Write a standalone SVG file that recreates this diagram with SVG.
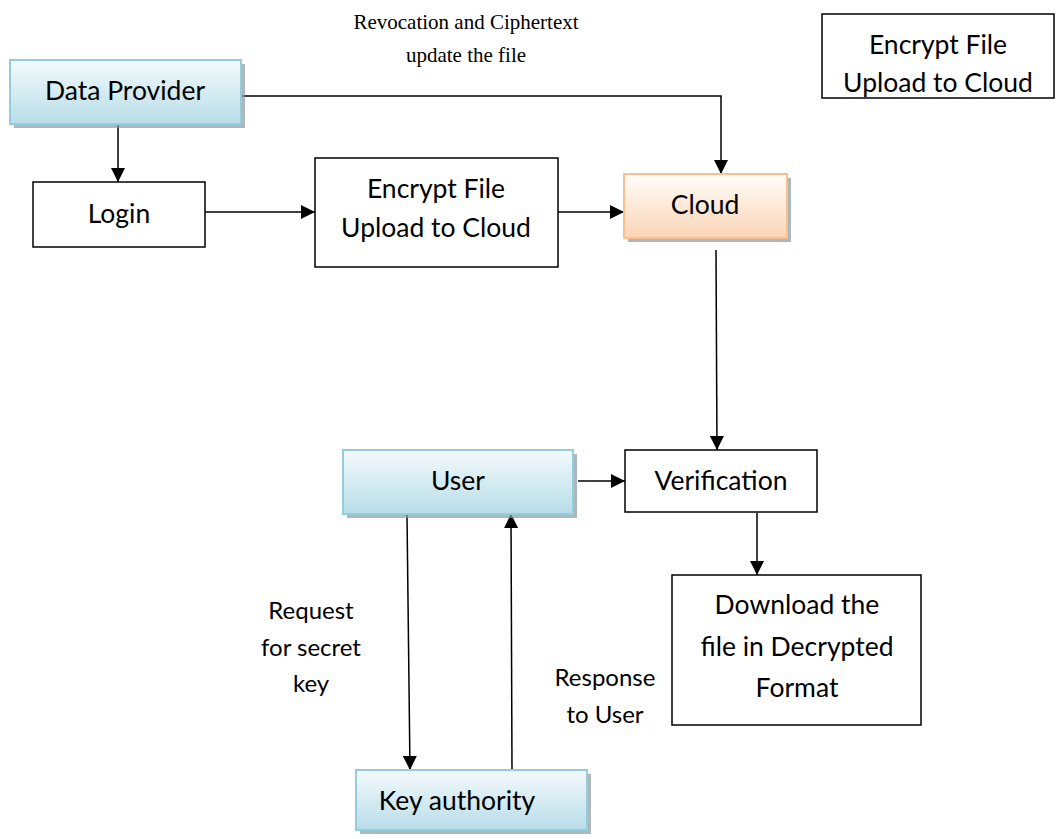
<svg xmlns="http://www.w3.org/2000/svg" width="1059" height="839" viewBox="0 0 1059 839">
  <defs>
    <linearGradient id="blueFill" x1="0" y1="0" x2="0" y2="1">
      <stop offset="0" stop-color="#f4fafc"/>
      <stop offset="1" stop-color="#b7dde8"/>
    </linearGradient>
    <linearGradient id="peachFill" x1="0" y1="0" x2="0" y2="1">
      <stop offset="0" stop-color="#fffdfb"/>
      <stop offset="1" stop-color="#fbd5b5"/>
    </linearGradient>
    <marker id="arrow" viewBox="0 0 10 10" refX="10" refY="5" markerWidth="14" markerHeight="14" markerUnits="userSpaceOnUse" orient="auto">
      <path d="M0,0 L10,5 L0,10 Z" fill="#000"/>
    </marker>
  </defs>
  <style>
    .plain { fill: #fff; stroke: #000; stroke-width: 1.5; }
    .blue { fill: url(#blueFill); stroke: #93cddd; stroke-width: 2; }
    .peach { fill: url(#peachFill); stroke: #fac090; stroke-width: 2; }
    .shadow { fill: #8a9aa0; opacity: 0.7; }
    .label { font-family: Lato, "Open Sans", "Liberation Sans", sans-serif; font-size: 26.5px; fill: #000; text-anchor: middle; }
    .small { font-family: Lato, "Open Sans", "Liberation Sans", sans-serif; font-size: 24px; fill: #000; text-anchor: middle; }
    .serif { font-family: "Liberation Serif", "DejaVu Serif", serif; font-size: 21px; fill: #000; text-anchor: middle; }
    .conn { fill: none; stroke: #000; stroke-width: 1.5; marker-end: url(#arrow); }
  </style>

  <rect width="1059" height="839" fill="#fff"/>

  <!-- connectors -->
  <g id="connectors">
    <polyline class="conn" points="241,96 721,96 721,174"/>
    <line class="conn" x1="118" y1="125" x2="118" y2="182"/>
    <line class="conn" x1="205" y1="212" x2="315" y2="212"/>
    <line class="conn" x1="558" y1="212" x2="624" y2="212"/>
    <line class="conn" x1="716" y1="250" x2="717" y2="450"/>
    <line class="conn" x1="578" y1="481" x2="625" y2="481"/>
    <line class="conn" x1="757" y1="513" x2="757" y2="575"/>
    <line class="conn" x1="407" y1="515" x2="410" y2="770"/>
    <line class="conn" x1="512" y1="770" x2="511" y2="514"/>
  </g>

  <!-- edge labels -->
  <g id="labels">
    <text class="serif" x="466" y="29">Revocation and Ciphertext</text>
    <text class="serif" x="466" y="62">update the file</text>
    <text class="small" x="311" y="619">Request</text>
    <text class="small" x="311" y="656">for secret</text>
    <text class="small" x="311" y="692">key</text>
    <text class="small" x="605" y="686">Response</text>
    <text class="small" x="605" y="723">to User</text>
  </g>

  <g id="data-provider">
    <rect class="shadow" x="14" y="64" width="231" height="64"/>
    <rect class="blue" x="10" y="60" width="231" height="64"/>
    <text class="label" x="125" y="100">Data Provider</text>
  </g>

  <g id="login">
    <rect class="plain" x="33" y="182" width="172" height="65"/>
    <text class="label" x="119" y="223">Login</text>
  </g>

  <g id="encrypt-upload">
    <rect class="plain" x="315" y="158" width="243" height="109"/>
    <text class="label" x="436" y="198">Encrypt File</text>
    <text class="label" x="436" y="237">Upload to Cloud</text>
  </g>

  <g id="cloud">
    <rect class="shadow" x="628" y="178" width="163" height="64"/>
    <rect class="peach" x="624" y="174" width="163" height="64"/>
    <text class="label" x="705" y="214">Cloud</text>
  </g>

  <g id="encrypt-upload-note">
    <rect class="plain" x="822" y="14" width="232" height="84"/>
    <text class="label" x="938" y="54">Encrypt File</text>
    <text class="label" x="938" y="92">Upload to Cloud</text>
  </g>

  <g id="user">
    <rect class="shadow" x="347" y="454" width="230" height="64"/>
    <rect class="blue" x="343" y="450" width="230" height="64"/>
    <text class="label" x="458" y="490">User</text>
  </g>

  <g id="verification">
    <rect class="plain" x="625" y="450" width="192" height="62"/>
    <text class="label" x="721" y="490">Verification</text>
  </g>

  <g id="download">
    <rect class="plain" x="672" y="575" width="249" height="150"/>
    <text class="label" x="797" y="614">Download the</text>
    <text class="label" x="797" y="656">file in Decrypted</text>
    <text class="label" x="797" y="697">Format</text>
  </g>

  <g id="key-authority">
    <rect class="shadow" x="360" y="774" width="231" height="60"/>
    <rect class="blue" x="356" y="770" width="231" height="60"/>
    <text class="label" x="457" y="810">Key authority</text>
  </g>
</svg>
